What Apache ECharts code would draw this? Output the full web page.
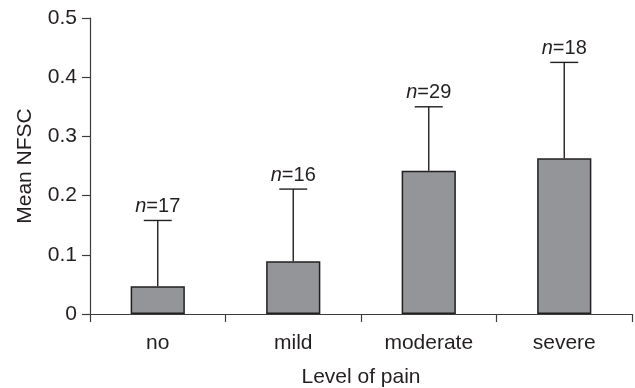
<!DOCTYPE html>
<html>
<head>
<meta charset="utf-8">
<script src="https://cdn.jsdelivr.net/npm/echarts@6/dist/echarts.min.js"></script>
<style>
  html, body { margin: 0; padding: 0; background: #fff; }
  #main { width: 635px; height: 388px; }
</style>
</head>
<body>
<div id="main"></div>
<script>
// data
var categories = ["no", "mild", "moderate", "severe"];
var meanNFSC = [0.047, 0.089, 0.242, 0.263];   // bar heights
var errTop = [0.158, 0.211, 0.350, 0.425];     // upper end of error bars
var nCounts = [17, 16, 29, 18];
var yTicks = [0, 0.1, 0.2, 0.3, 0.4, 0.5];

var FONT = "Liberation Sans";
var INK = "#231f20";

window.onload = function () {
    var chart = echarts.init(document.getElementById("main"));

    var errData = categories.map(function (c, i) {
        return [i, meanNFSC[i], errTop[i], nCounts[i]];
    });

    var option = {
        animation: false,
        grid: { left: 90, right: 3, top: 18, bottom: 74, outerBoundsMode: "none" },
        xAxis: {
            type: "category",
            data: categories,
            name: "Level of pain",
            nameLocation: "middle",
            nameGap: 53,
            nameTextStyle: { fontFamily: FONT, fontSize: 21, color: INK },
            axisLine: { lineStyle: { color: "#3c3c3c", width: 1.2 } },
            axisTick: { show: true, length: 8, lineStyle: { color: "#3c3c3c", width: 1.2 } },
            axisLabel: { fontFamily: FONT, fontSize: 21, color: INK, margin: 19 }
        },
        yAxis: {
            type: "value",
            min: 0,
            max: 0.5,
            interval: 0.1,
            name: "Mean NFSC",
            nameLocation: "middle",
            nameGap: 54,
            nameTextStyle: { fontFamily: FONT, fontSize: 21, color: INK },
            splitLine: { show: false },
            axisLine: { show: true, lineStyle: { color: "#3c3c3c", width: 1.2 } },
            axisTick: { show: true, length: 8, lineStyle: { color: "#3c3c3c", width: 1.2 } },
            axisLabel: {
                fontFamily: FONT, fontSize: 21, color: INK, margin: 13,
                formatter: function (v) { return yTicks.indexOf(Math.round(v * 10) / 10) >= 0 ? String(Math.round(v * 10) / 10) : ""; }
            }
        },
        series: [
            {
                type: "bar",
                data: meanNFSC,
                barWidth: "40%",
                itemStyle: { color: "#939598", borderColor: INK, borderWidth: 1.5 }
            },
            {
                type: "custom",
                data: errData,
                z: 5,
                renderItem: function (params, api) {
                    var idx = api.value(0);
                    var base = api.coord([idx, api.value(1)]);
                    var top = api.coord([idx, api.value(2)]);
                    var cap = 14;
                    var ls = { stroke: INK, lineWidth: 1.4 };
                    return {
                        type: "group",
                        children: [
                            { type: "line", shape: { x1: top[0], y1: base[1], x2: top[0], y2: top[1] }, style: ls },
                            { type: "line", shape: { x1: top[0] - cap, y1: top[1], x2: top[0] + cap, y2: top[1] }, style: ls },
                            {
                                type: "text",
                                x: top[0],
                                y: top[1] - 4,
                                style: {
                                    text: "{i|n}=" + api.value(3),
                                    fontFamily: FONT,
                                    fontSize: 20,
                                    fill: INK,
                                    align: "center",
                                    verticalAlign: "bottom",
                                    rich: { i: { fontFamily: FONT, fontSize: 20, fontStyle: "italic", fill: INK } }
                                }
                            }
                        ]
                    };
                }
            }
        ]
    };
    chart.setOption(option);
};
</script>
</body>
</html>
